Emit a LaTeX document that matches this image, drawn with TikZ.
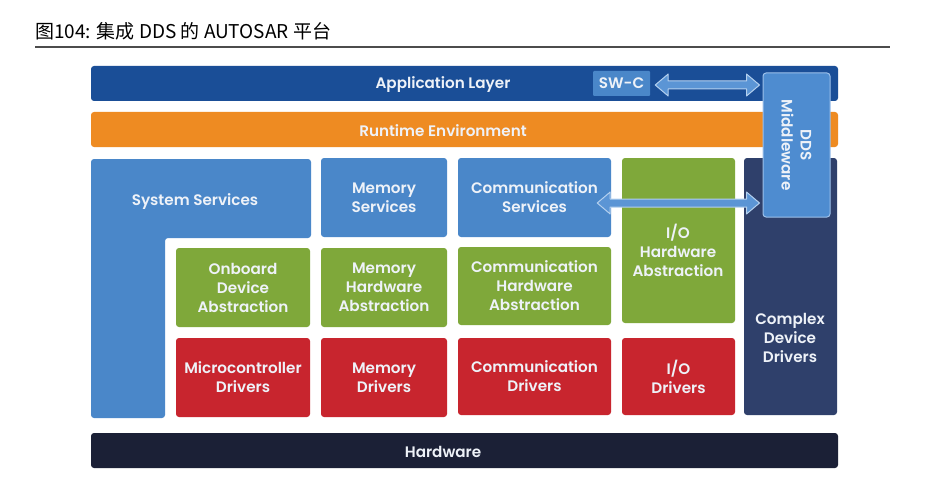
\documentclass[tikz,border=0pt]{standalone}
\usepackage{fontspec}
\setmainfont{Poppins}[BoldFont={Poppins SemiBold}]
\newfontfamily\cjkfont{Noto Sans CJK SC}
\usetikzlibrary{calc}
\definecolor{appblue}{HTML}{1A4E97}
\definecolor{srvblue}{HTML}{4A87C9}
\definecolor{rteorange}{HTML}{EE8B22}
\definecolor{hwgreen}{HTML}{7FA83A}
\definecolor{drvred}{HTML}{C8252E}
\definecolor{cddnavy}{HTML}{2F406B}
\definecolor{hwdark}{HTML}{1B2036}
\definecolor{ddsblue}{HTML}{4E8CD0}
\definecolor{ddsedge}{HTML}{9CC0EA}
\definecolor{arrowfill}{HTML}{5B95D5}
\definecolor{arrowedge}{HTML}{B4D0EE}
\definecolor{txtwhite}{HTML}{EEF2F8}

% hollow double-headed arrow between two points (kept horizontal)
\newcommand\dblarrow[2]{%
  \filldraw[fill=arrowfill,draw=arrowedge,line width=1pt,line join=round]
    let \p1=(#1), \p2=(#2) in
    (\x1,\y1) -- (\x1+13pt,\y1+11pt) -- (\x1+13pt,\y1+4pt) -- (\x2-13pt,\y1+4pt)
    -- (\x2-13pt,\y1+11pt) -- (\x2,\y1) -- (\x2-13pt,\y1-11pt) -- (\x2-13pt,\y1-4pt)
    -- (\x1+13pt,\y1-4pt) -- (\x1+13pt,\y1-11pt) -- cycle;}

\begin{document}
\begin{tikzpicture}[x=1pt,y=-1pt,
 blk/.style={rounded corners=3pt,inner sep=0pt,align=center,text=txtwhite,
   font=\bfseries\fontsize{15.2}{19}\selectfont},
 lbl/.style={inner sep=0pt,align=center,text=txtwhite,font=\bfseries\fontsize{15.2}{19}\selectfont},
 bar/.style={blk,minimum width=747,minimum height=35},
 cell/.style={blk,minimum width=#1,minimum height=79},
 cell/.default=134]
\fill[white] (0,0) rectangle (950,492);
\useasboundingbox (0,0) rectangle (950,492);

% title
\node[anchor=west,inner sep=0pt,font=\cjkfont\fontsize{19}{22}\selectfont] (title) at (35,31)
  {图104: 集成 DDS 的 AUTOSAR 平台};
\draw[black!70,line width=1.8pt] (35,47) -- (890,47);

% top layers
\node[bar,fill=appblue] (app) at (464.5,83.5) {};
\node[lbl] (applbl) at (443,85) {Application Layer};
\node[blk,fill=srvblue,rounded corners=1pt,minimum width=57,minimum height=25] (swc) at (621.5,83.5) {SW-C};
\node[bar,fill=rteorange] (rte) at (464.5,129.5) {};
\node[lbl] (rtelbl) at (443,131) {Runtime Environment};

% complex device drivers column
\node[blk,fill=cddnavy,minimum width=93,minimum height=257] (cdd) at (790.5,286.5) {};
\node[lbl] (cddlbl) at (790,338) {Complex\\Device\\Drivers};

% system services (L shape)
\fill[srvblue,rounded corners=3pt] (91,159) -- (311,159) -- (311,238) -- (165,238)
  -- (165,418) -- (91,418) -- cycle;
\node[lbl] (syssrv) at (195,202) {System Services};

% services row
\node[cell=126,fill=srvblue] (memsrv) at (384,197.5) {Memory\\Services};
\node[cell=153,fill=srvblue] (comsrv) at (534.5,197.5) {Communication\\Services};
\node[blk,fill=hwgreen,minimum width=113,minimum height=165] (iohw) at (678.5,240.5) {};
\node[lbl] (iohwlbl) at (678,250) {I/O\\Hardware\\Abstraction};

% abstraction row
\node[cell,fill=hwgreen] (onb) at (243,287.5) {Onboard\\Device\\Abstraction};
\node[cell=126,fill=hwgreen] (memhw) at (384,287.5) {Memory\\Hardware\\Abstraction};
\node[cell=153,fill=hwgreen,minimum height=78] (comhw) at (534.5,286) {Communication\\Hardware\\Abstraction};

% drivers row
\node[cell,fill=drvred] (mcal) at (243,377.5) {Microcontroller\\Drivers};
\node[cell=126,fill=drvred] (memdrv) at (384,377.5) {Memory\\Drivers};
\node[cell=153,fill=drvred,minimum height=77] (comdrv) at (534.5,376.5) {Communication\\Drivers};
\node[cell=113,fill=drvred,minimum height=77] (iodrv) at (678.5,376.5) {I/O\\Drivers};

% hardware
\node[bar,fill=hwdark] (hw) at (464.5,450.5) {};
\node[lbl] (hwlbl) at (443,452) {Hardware};

% DDS middleware
\node[blk,fill=ddsblue,draw=ddsedge,line width=1pt,minimum width=67,minimum height=144] (dds) at (796.5,145) {};
\node[lbl,rotate=-90] (ddslbl) at (dds.center) {DDS\\Middleware};

% links to the middleware
\coordinate (swcR) at ($(swc.east)+(5,1.5)$);
\coordinate (ddsA) at ($(dds.west |- swcR)+(-3,0)$);
\coordinate (comR) at ($(comsrv.east)+(-14,5.5)$);
\coordinate (ddsB) at ($(dds.west |- comR)+(-3,0)$);
\dblarrow{swcR}{ddsA}
\dblarrow{comR}{ddsB}
\end{tikzpicture}
\end{document}
